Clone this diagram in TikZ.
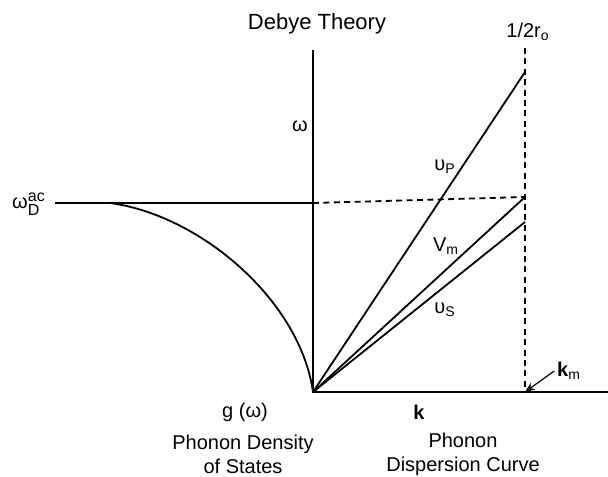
\documentclass[tikz,border=0pt]{standalone}
\usepackage{fontspec}
\setmainfont{Liberation Sans}
\usetikzlibrary{arrows.meta}

\begin{document}
\begin{tikzpicture}[x=0.5pt, y=-0.5pt, line width=0.9pt, font=\normalsize,
    dashline/.style={dash pattern=on 3pt off 2.2pt},
    lbl/.style={inner sep=1pt}]
  \useasboundingbox (0,0) rectangle (608,476);
  % key points (pixel grid, y downward)
  \coordinate (O) at (313,392);
  \coordinate (wtop) at (313,50);
  \coordinate (kend) at (608,392);
  \coordinate (kmax) at (525,392);
  \coordinate (rtop) at (525,48);
  \coordinate (wD) at (313,203);
  \coordinate (wleft) at (55,203);
  \coordinate (gtop) at (110,203);
  \coordinate (vpend) at (525,72);
  \coordinate (vmend) at (525,197);
  \coordinate (vsend) at (525,222);
  % axes
  \draw (wtop) -- (O) -- (kend);
  \draw (wleft) -- (wD);
  % density of states g ~ omega^2
  \draw (O) .. controls (300,300) and (200,215) .. (gtop);
  % zone boundary and cut-off frequency
  \draw[dashline] (rtop) -- (kmax);
  \draw[dashline] (wD) -- (vmend);
  % dispersion lines
  \draw (O) -- (vpend);
  \draw (O) -- (vmend);
  \draw (O) -- (vsend);
  % labels
  \node[lbl, font=\fontsize{11}{13}\selectfont] (title) at (317,24) {Debye Theory};
  \node[lbl] (wlab) at (300,126) {ω};
  \node[lbl] (rlab) at (528,32) {1/2r\textsubscript{o}};
  \node[lbl] (wDlab) at (29,204) {ω$^{\mbox{\footnotesize ac}}_{\mbox{\footnotesize D}}$};
  \node[lbl] (vplab) at (445,167) {υ\textsubscript{P}};
  \node[lbl] (vmlab) at (446,246) {V\textsubscript{m}};
  \node[lbl] (vslab) at (445,310) {υ\textsubscript{S}};
  \node[lbl] (glab) at (245,412) {g (ω)};
  \node[lbl] (klab) at (419,412) {\textbf{k}};
  \node[lbl] (kmlab) at (569,371) {\textbf{k}\textsubscript{m}};
  \draw[-{Stealth[length=5pt,width=4pt]}, line width=0.6pt] (kmlab.west) -- (kmax);
  \node[lbl, align=center] (doslab) at (243,454) {Phonon Density\\of States};
  \node[lbl, align=center] (displab) at (463,454) {Phonon\\Dispersion Curve};
\end{tikzpicture}
\end{document}
